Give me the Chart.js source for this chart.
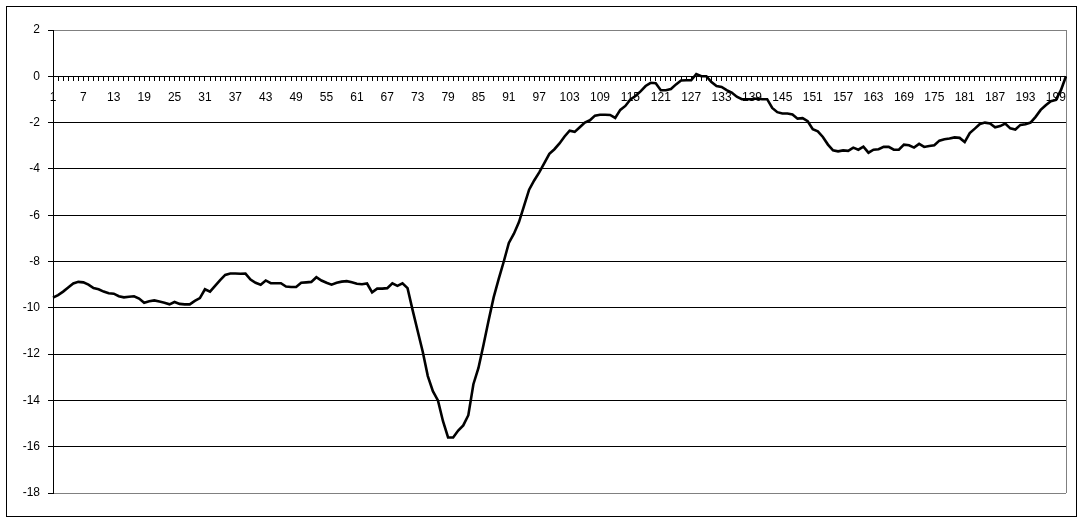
<!DOCTYPE html>
<html>
<head>
<meta charset="utf-8">
<script src="https://cdn.jsdelivr.net/npm/chart.js@4/dist/chart.umd.min.js"></script>
<style>
  html, body { margin: 0; padding: 0; background: #fff; }
  #wrap { width: 1084px; height: 523px; }
</style>
</head>
<body>
<div id="wrap"><canvas id="chart" width="1084" height="523"></canvas></div>
<script>
// values, one per category 1..201
const values = [
  -9.56, -9.45, -9.30, -9.12, -8.95, -8.88, -8.90, -9.00, -9.15, -9.20,
  -9.30, -9.37, -9.39, -9.50, -9.55, -9.52, -9.50, -9.60, -9.78, -9.72,
  -9.68, -9.73, -9.78, -9.85, -9.75, -9.83, -9.85, -9.85, -9.70, -9.58,
  -9.20, -9.30, -9.05, -8.80, -8.58, -8.52, -8.52, -8.53, -8.52, -8.78,
  -8.92, -9.00, -8.82, -8.94, -8.94, -8.94, -9.08, -9.10, -9.10, -8.92,
  -8.90, -8.88, -8.68, -8.82, -8.92, -9.00, -8.92, -8.87, -8.85, -8.90,
  -8.96, -8.98, -8.95, -9.33, -9.17, -9.17, -9.15, -8.94, -9.05, -8.94,
  -9.15, -10.10, -11.00, -11.90, -12.95, -13.60, -14.00, -14.90, -15.60, -15.60,
  -15.30, -15.08, -14.64, -13.30, -12.60, -11.60, -10.55, -9.55, -8.75, -8.00,
  -7.20, -6.80, -6.30, -5.60, -4.90, -4.50, -4.15, -3.75, -3.35, -3.15,
  -2.90, -2.60, -2.35, -2.40, -2.20, -2.00, -1.90, -1.70, -1.66, -1.66,
  -1.67, -1.80, -1.45, -1.28, -1.00, -0.85, -0.65, -0.42, -0.28, -0.30,
  -0.60, -0.60, -0.55, -0.35, -0.18, -0.17, -0.17, 0.10, 0.00, 0.00,
  -0.25, -0.42, -0.46, -0.60, -0.70, -0.88, -0.99, -0.99, -0.99, -0.96,
  -0.99, -0.99, -1.37, -1.55, -1.61, -1.61, -1.65, -1.83, -1.81, -1.94,
  -2.29, -2.38, -2.62, -2.95, -3.20, -3.24, -3.20, -3.22, -3.08, -3.17,
  -3.04, -3.30, -3.17, -3.15, -3.05, -3.05, -3.17, -3.17, -2.95, -2.98,
  -3.08, -2.92, -3.05, -3.01, -2.98, -2.78, -2.72, -2.69, -2.64, -2.66,
  -2.84, -2.45, -2.26, -2.06, -2.00, -2.04, -2.20, -2.15, -2.04, -2.25,
  -2.30, -2.10, -2.07, -2.00, -1.75, -1.45, -1.25, -1.08, -1.02, -0.60,
  0.00
];

const categories = values.map((v, i) => String(i + 1));
const labelEvery = 6;          // x labels 1, 7, 13 ... 199
const yMin = -18, yMax = 2, yStep = 2;

// outer chart border + grey right edge of the plot area
const frame = {
  id: 'frame',
  beforeDatasetsDraw(chart) {
    const { ctx, chartArea: a } = chart;
    ctx.save();
    ctx.strokeStyle = '#808080';
    ctx.lineWidth = 1;
    ctx.beginPath();
    ctx.moveTo(Math.round(a.right) + 0.5, a.top);
    ctx.lineTo(Math.round(a.right) + 0.5, a.bottom);
    ctx.stroke();
    ctx.restore();
  },
  afterDraw(chart) {
    const ctx = chart.ctx;
    ctx.save();
    ctx.strokeStyle = '#000';
    ctx.lineWidth = 1;
    ctx.strokeRect(6.5, 6.5, 1070, 510);
    ctx.restore();
  }
};

const font = { family: "'Liberation Sans', Arial, sans-serif", size: 12 };

new Chart(document.getElementById('chart'), {
  type: 'line',
  data: {
    labels: categories,
    datasets: [{
      data: values,
      borderColor: '#000',
      borderWidth: 2.6,
      pointRadius: 0,
      tension: 0,
      fill: false
    }]
  },
  options: {
    responsive: false,
    animation: false,
    devicePixelRatio: 1,
    layout: { padding: { left: 0, right: 18, top: 30, bottom: 30 } },
    plugins: { legend: { display: false }, tooltip: { enabled: false } },
    scales: {
      x: {
        position: { y: 0 },
        offset: false,
        grid: { drawOnChartArea: false, drawTicks: true, tickLength: 4, color: '#000' },
        border: { display: true, color: '#000', width: 1 },
        ticks: {
          autoSkip: false,
          maxRotation: 0,
          minRotation: 0,
          padding: 10,
          color: '#000',
          font: font,
          callback: (v, i) => (i % labelEvery === 0 ? categories[i] : '')
        }
      },
      y: {
        min: yMin,
        max: yMax,
        afterFit: s => { s.width = 53; },
        grid: {
          color: c => (c.tick && (c.tick.value === yMin || c.tick.value === yMax) ? '#808080' : '#000'),
          tickColor: '#000',
          tickLength: 5,
          lineWidth: 1
        },
        border: { display: true, color: '#000', width: 1 },
        ticks: { stepSize: yStep, padding: 8, color: '#000', font: font }
      }
    }
  },
  plugins: [frame]
});
</script>
</body>
</html>
